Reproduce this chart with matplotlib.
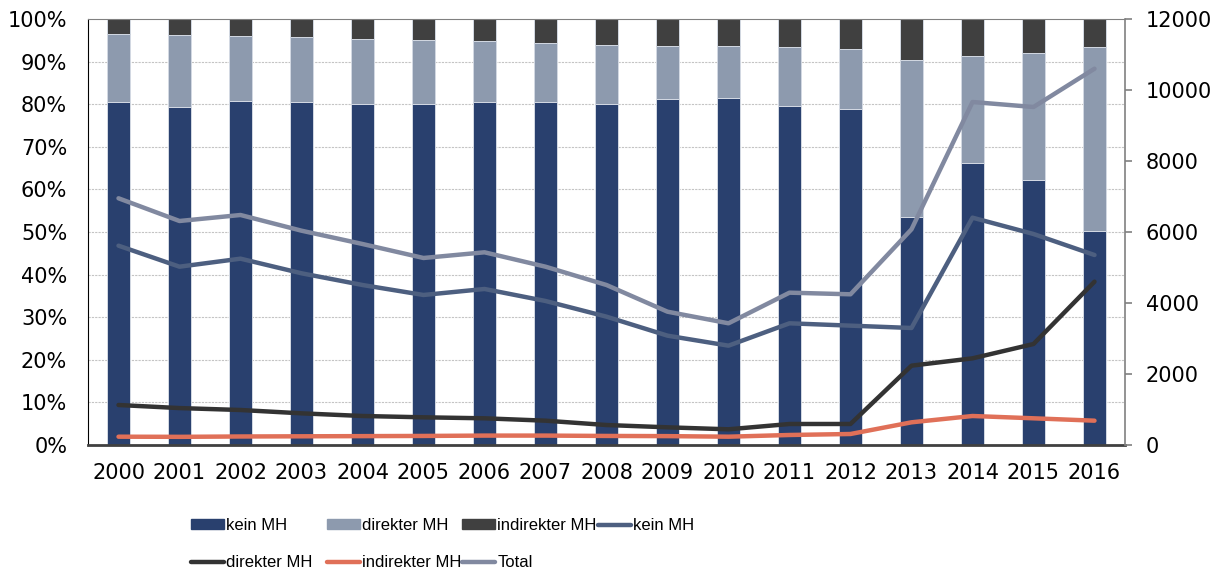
import numpy as np
import matplotlib
matplotlib.use("Agg")
import matplotlib.pyplot as plt
from matplotlib.patches import Patch
from matplotlib.lines import Line2D

years = [str(y) for y in range(2000, 2017)]

# bar shares in %
kein_pct = [80.4, 79.4, 80.8, 80.4, 80.0, 80.0, 80.6, 80.4, 80.0, 81.2, 81.5, 79.6, 78.9, 53.5, 66.2, 62.2, 50.2]
direkt_pct = [16.1, 16.8, 15.2, 15.3, 15.4, 15.1, 14.2, 14.0, 14.0, 12.5, 12.2, 13.8, 14.0, 36.8, 25.2, 29.8, 43.3]
indirekt_pct = [3.5, 3.8, 4.0, 4.3, 4.6, 4.9, 5.2, 5.6, 6.0, 6.3, 6.3, 6.6, 7.1, 9.7, 8.6, 8.0, 6.5]

# absolute numbers (right axis)
kein_n = [5615, 5023, 5249, 4837, 4507, 4226, 4395, 4057, 3615, 3080, 2798, 3428, 3362, 3296, 6404, 5944, 5352]
direkt_n = [1127, 1040, 986, 892, 817, 780, 752, 685, 563, 498, 442, 592, 592, 2235, 2441, 2845, 4601]
indirekt_n = [234, 230, 240, 245, 250, 255, 265, 265, 255, 250, 234, 282, 310, 639, 817, 752, 685]
total_n = [6950, 6310, 6479, 6037, 5662, 5268, 5428, 5023, 4507, 3755, 3428, 4291, 4245, 6076, 9662, 9521, 10600]

c_kein = "#29406e"
c_direkt = "#8d9aae"
c_indirekt = "#404040"
l_kein = "#4d5f80"
l_direkt = "#333333"
l_indirekt = "#e07058"
l_total = "#8189a0"

fig = plt.figure(figsize=(12.18, 5.70), dpi=100)
ax = fig.add_axes([88/1218, 1 - 445/570, (1125-88)/1218, (445-19)/570])
x = np.arange(len(years))
w = 0.37
ec = "#d3d9e3"
ax.bar(x, kein_pct, w, color=c_kein, edgecolor=ec, linewidth=0.7)
ax.bar(x, direkt_pct, w, bottom=kein_pct, color=c_direkt, edgecolor=ec, linewidth=0.7)
ax.bar(x, indirekt_pct, w, bottom=np.add(kein_pct, direkt_pct), color=c_indirekt, edgecolor=ec, linewidth=0.7)

ax.set_xlim(-0.5, 16.5)
ax.set_ylim(0, 100)
ax.set_yticks(range(0, 101, 10))
ax.set_yticklabels([f"{v}%" for v in range(0, 101, 10)])
ax.set_xticks(x)
ax.set_xticklabels(years)
ax.tick_params(axis="y", length=0, pad=15, labelsize=15)
ax.tick_params(axis="x", length=0, pad=13, labelsize=15)
ax.set_axisbelow(True)
for v in range(10, 100, 10):
    ax.axhline(v, color="#c4c4c4", lw=0.8, ls=(0, (2, 1)), zorder=0)
ax.spines["top"].set_color("#808080")
ax.spines["right"].set_visible(False)
ax.spines["left"].set_color("black")
ax.spines["bottom"].set_color("#404040")
ax.spines["bottom"].set_linewidth(2)

ax2 = ax.twinx()
ax2.set_ylim(0, 12000)
ax2.set_yticks(range(0, 12001, 2000))
ax2.tick_params(axis="y", direction="out", length=5, width=1.2, color="#808080", pad=10, labelsize=15)
ax2.spines["right"].set_color("#808080")
ax2.spines["right"].set_linewidth(1.2)
for s in ["top", "left", "bottom"]:
    ax2.spines[s].set_visible(False)

lkw = dict(lw=3.2, solid_capstyle="round", solid_joinstyle="round")
ax2.plot(x, kein_n, color=l_kein, **lkw)
ax2.plot(x, direkt_n, color=l_direkt, **lkw)
ax2.plot(x, indirekt_n, color=l_indirekt, **lkw)
ax2.plot(x, total_n, color=l_total, **lkw)

# legend: 4 columns placed at fixed positions, 2 rows
handles = [
    Patch(color=c_kein), Patch(color=c_direkt), Patch(color=c_indirekt),
    Line2D([], [], color=l_kein, **lkw),
    Line2D([], [], color=l_direkt, **lkw),
    Line2D([], [], color=l_indirekt, **lkw),
    Line2D([], [], color=l_total, **lkw),
]
labels = ["kein MH", "direkter MH", "indirekter MH", "kein MH", "direkter MH", "indirekter MH", "Total"]
col_x = [191, 327, 462, 598]
for k in range(4):
    idx = [k, k + 4] if k + 4 < len(handles) else [k]
    leg = fig.legend([handles[i] for i in idx], [labels[i] for i in idx],
                     loc="upper left", bbox_to_anchor=(col_x[k]/1218, 1 - 518/570),
                     frameon=False, borderpad=0, borderaxespad=0,
                     handlelength=2.0, handleheight=0.55, handletextpad=0.12,
                     labelspacing=1.32,
                     prop={"family": "Liberation Sans", "size": 12})

fig.savefig("out.png", dpi=100)
